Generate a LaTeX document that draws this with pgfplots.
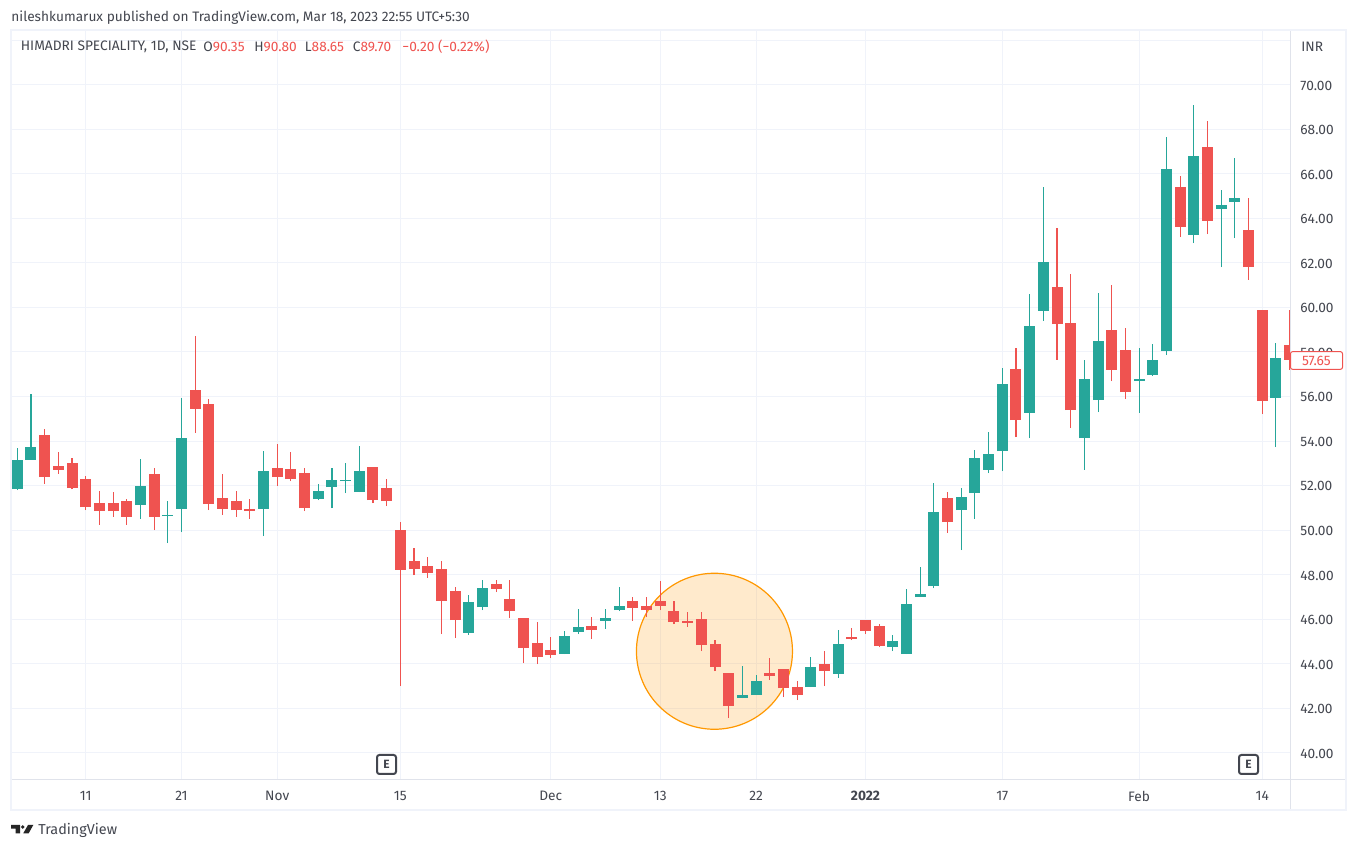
\documentclass[border=0pt]{standalone}
\usepackage{fontspec}
\setmainfont{Fira Sans}
\usepackage{pgfplots}
\usepackage{pgfplotstable}
\pgfplotsset{compat=1.18}
\definecolor{tvred}{HTML}{EF5350}
\definecolor{tvteal}{HTML}{26A69A}
\definecolor{tvgrid}{HTML}{F0F3FA}
\definecolor{tvline}{HTML}{E0E3EB}
\definecolor{tvtext}{HTML}{43464F}
\definecolor{tvorange}{HTML}{FF9800}
\newcommand{\tvfont}{\fontsize{6.85}{8}\selectfont}

% daily candles, i = bar number from the left edge
\pgfplotstableread{
i o h l c
0 51.84 53.68 51.80 53.15
1 53.15 56.11 53.15 53.73
9 51.12 53.19 50.50 51.98
11 50.63 51.30 49.42 50.68
12 50.95 55.93 49.91 54.13
18 50.95 53.55 49.73 52.65
22 51.39 52.07 51.35 51.75
23 51.93 52.79 50.99 52.25
24 52.20 53.01 51.66 52.25
25 51.71 53.77 51.71 52.65
33 45.38 47.08 45.29 46.77
34 46.54 47.76 46.41 47.40
40 44.43 45.47 44.43 45.24
41 45.42 46.45 45.33 45.65
43 45.92 46.45 45.56 46.05
44 46.41 47.44 46.36 46.59
53 42.46 43.89 42.46 42.59
54 42.59 43.49 42.59 43.22
58 42.95 44.30 42.95 43.85
60 43.54 45.51 43.36 44.88
64 44.75 45.29 44.57 45.02
65 44.43 47.35 44.43 46.68
66 46.99 48.34 46.99 47.13
67 47.49 52.11 47.40 50.81
69 50.90 51.89 49.10 51.48
70 51.66 53.60 50.50 53.24
71 52.70 54.40 52.56 53.42
72 53.55 57.28 52.65 56.56
74 55.26 60.60 54.13 59.16
75 59.84 65.40 59.39 62.04
78 54.13 57.64 52.70 56.78
79 55.84 60.64 55.30 58.49
82 56.69 58.17 55.26 56.78
83 56.96 58.35 56.92 57.64
84 58.04 67.65 57.86 66.21
86 63.25 69.09 62.89 66.80
88 64.42 65.27 61.81 64.60
89 64.73 66.71 63.11 64.91
92 55.93 58.40 53.73 57.73
}\updata
\pgfplotstableread{
i o h l c
2 54.27 54.54 52.07 52.38
3 52.88 53.50 52.52 52.70
4 53.01 53.24 51.84 51.89
5 52.29 52.43 50.90 51.03
6 51.21 51.75 50.23 50.85
7 51.21 51.71 50.59 50.85
8 51.30 51.39 50.23 50.59
10 52.52 52.79 50.00 50.59
13 56.29 58.71 54.36 55.44
14 55.66 55.89 50.90 51.17
15 51.44 52.52 50.68 50.95
16 51.30 51.75 50.59 50.90
17 50.95 51.39 50.50 50.85
19 52.79 53.86 51.98 52.38
20 52.74 53.50 52.20 52.29
21 52.56 52.79 50.85 50.99
26 52.83 52.83 51.21 51.35
27 51.89 52.29 51.08 51.30
28 50.00 50.36 43.00 48.21
29 48.61 49.19 47.98 48.25
30 48.39 48.79 47.85 48.07
31 48.25 48.61 45.33 46.81
32 47.26 47.44 45.15 45.96
35 47.58 47.76 47.22 47.35
36 46.90 47.76 46.05 46.36
37 46.05 46.05 44.03 44.70
38 44.93 45.87 43.98 44.30
39 44.61 45.20 44.25 44.39
42 45.69 46.09 45.11 45.51
45 46.81 46.99 45.92 46.50
46 46.59 46.99 46.09 46.41
47 46.81 47.71 46.41 46.59
48 46.36 46.81 45.78 45.87
49 45.92 46.32 45.65 45.83
50 46.00 46.32 44.57 44.84
51 44.88 45.06 43.67 43.85
52 43.58 43.58 41.56 42.10
55 43.58 44.25 43.27 43.45
56 43.76 43.76 42.50 42.91
57 42.95 43.22 42.37 42.59
59 43.98 44.57 43.00 43.67
61 45.20 45.60 45.06 45.11
62 45.96 45.96 45.33 45.47
63 45.69 45.78 44.75 44.79
68 51.44 51.71 49.87 50.36
73 57.23 58.18 54.18 54.94
76 60.91 63.56 57.64 59.25
77 59.30 61.50 54.58 55.39
80 58.98 61.00 56.69 57.19
81 58.08 59.07 55.88 56.20
85 65.40 65.90 63.16 63.61
87 67.20 68.37 63.29 63.88
90 63.47 64.91 61.23 61.81
91 59.88 59.88 55.21 55.79
93 58.31 59.88 57.19 57.65
}\downdata

\pgfplotsset{
  wick/.style={draw=none, mark=none, forget plot,
    error bars/.cd, y dir=plus, y explicit, error mark=none,
    error bar style={draw=#1, line width=0.55pt}},
  body/.style={draw=none, mark=none, forget plot,
    error bars/.cd, y dir=plus, y explicit, error mark=none,
    error bar style={draw=#1, line width=5.5pt}},
}

\begin{document}
\begin{tikzpicture}[x=0.5pt, y=0.5pt, every node/.style={font=\tvfont, text=tvtext, inner sep=0pt}]
\path[use as bounding box, fill=white] (0,0) rectangle (1357,850);

\begin{axis}[
  at={(5.5pt,35pt)}, anchor=south west,
  width=639.5pt, height=375pt, scale only axis,
  xmin=-0.46, xmax=93.03, ymin=38.78, ymax=72.455,
  axis line style={draw=none},
  major tick length=0pt,
  xtick={5,12,19,28,39,47,54,62,72,82,91},
  xticklabels={11,21,Nov,15,Dec,13,22,\textbf{2022},17,Feb,14},
  xticklabel style={font=\tvfont, text=tvtext, anchor=north, yshift=-5.5pt},
  ytick={40,42,...,72},
  yticklabels={40.00,42.00,44.00,46.00,48.00,50.00,52.00,54.00,56.00,58.00,60.00,62.00,64.00,66.00,68.00,70.00,},
  yticklabel pos=right,
  yticklabel style={font=\tvfont, text=tvtext, anchor=west, xshift=5pt, yshift=-0.4pt},
  grid=major,
  grid style={draw=tvgrid, line width=0.5pt},
]
\draw[tvorange, line width=0.6pt, fill=tvorange, fill opacity=0.2]
  (axis cs:50.96,44.56) circle [radius=39pt];
\addplot[wick=tvteal] table[x=i, y=l, y error plus expr=\thisrow{h}-\thisrow{l}] {\updata};
\addplot[wick=tvred] table[x=i, y=l, y error plus expr=\thisrow{h}-\thisrow{l}] {\downdata};
\addplot[body=tvteal] table[x=i, y=o, y error plus expr=\thisrow{c}-\thisrow{o}] {\updata};
\addplot[body=tvred] table[x=i, y=c, y error plus expr=\thisrow{o}-\thisrow{c}] {\downdata};
\end{axis}

% chart frame
\draw[tvline, line width=0.5pt] (11,70) -- (1346,70);
\draw[tvline, line width=0.5pt] (1290,40) -- (1290,820);
\draw[tvgrid, line width=1pt] (10.5,39.5) rectangle (1346,820);

% last price label
\node[draw=tvred, fill=white, rounded corners=1pt, line width=0.5pt, text=tvred,
  minimum width=26pt, minimum height=8.8pt, anchor=west] at (1290,489.5) {57.65};

% earnings flags
\foreach \ex in {386.5,1248.5}
  \node[draw=tvtext, fill=white, rounded corners=1.2pt, line width=1pt, minimum width=9.5pt,
    minimum height=9.5pt, font=\fontsize{6}{7}\selectfont\bfseries] at (\ex,85.5) {E};

% header texts
\node[anchor=west] at (11,832.5) {nileshkumarux published on TradingView.com, Mar 18, 2023 22:55 UTC+5:30};
\node[anchor=west] at (20.5,803) {HIMADRI SPECIALITY, 1D, NSE};
\node[anchor=west] at (203,803) {O\textcolor{tvred}{90.35}};
\node[anchor=west] at (254,803) {H\textcolor{tvred}{90.80}};
\node[anchor=west] at (304.5,803) {L\textcolor{tvred}{88.65}};
\node[anchor=west] at (352.5,803) {C\textcolor{tvred}{89.70}};
\node[anchor=west, text=tvred] at (402,803) {−0.20 (−0.22\%)};
\node[anchor=west] at (1301,803) {INR};

% logo
\fill[black!85] (11,25) -- (20,25) -- (20,16.7) -- (15.7,16.7) -- (15.7,21.3) -- (11,21.3) -- cycle;
\fill[black!85] (22.7,23) circle [radius=1.9];
\fill[black!85] (28,25) -- (33.3,25) -- (28.7,16.7) -- (23.3,16.7) -- cycle;
\node[anchor=west, font=\fontsize{7.2}{9}\selectfont] at (38,19.5) {TradingView};
\end{tikzpicture}
\end{document}
